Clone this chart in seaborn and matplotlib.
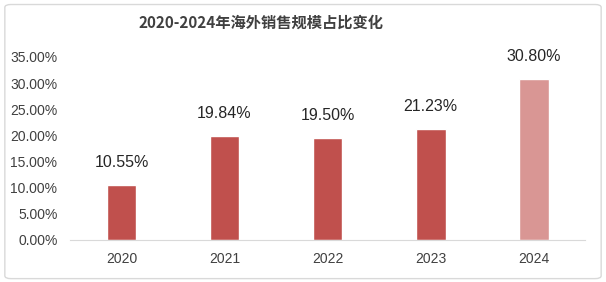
import matplotlib
matplotlib.use("Agg")
import matplotlib.pyplot as plt
from matplotlib.patches import FancyBboxPatch
import seaborn as sns
import pandas as pd

years = ["2020", "2021", "2022", "2023", "2024"]
shares = [10.55, 19.84, 19.50, 21.23, 30.80]
colors = ["#C0504D", "#C0504D", "#C0504D", "#C0504D", "#D99694"]
yticks = [0, 5, 10, 15, 20, 25, 30, 35]
title = "2020-2024年海外销售规模占比变化"

sns.set_style("white")
plt.rcParams['font.family'] = ['Noto Sans CJK SC', 'DejaVu Sans']

df = pd.DataFrame({"year": years, "share": shares})

fig = plt.figure(figsize=(6.06, 2.82), dpi=100)
ax = fig.add_axes([0.1155, 0.149, 0.85, 0.649])

sns.barplot(data=df, x="year", y="share", hue="year", palette=colors,
            legend=False, width=0.29, ax=ax, saturation=1)

ax.set_ylim(0, 35)
ax.set_yticks(yticks)
ax.set_yticklabels([f"{v:.2f}%" for v in yticks], family=['Liberation Sans'], fontsize=10, color="#404040")
ax.set_xticks(range(len(years)))
ax.set_xticklabels(years, family=['Liberation Sans'], fontsize=10, color="#404040")
ax.set_xlabel("")
ax.set_ylabel("")
for s in ["top", "right", "left"]:
    ax.spines[s].set_visible(False)
ax.spines["bottom"].set_color("#D9D9D9")
ax.tick_params(axis="x", length=0, pad=9)
ax.tick_params(axis="y", length=0, pad=9)

for i, v in enumerate(shares):
    ax.text(i, v + 2.9, f"{v:.2f}%", ha="center", va="bottom",
            family=['Liberation Sans'], fontsize=11.5, color="#262626")

fig.text(0.43, 0.92, title, ha="center", va="center", fontsize=11,
         fontweight="bold", color="#404040")

border = FancyBboxPatch((0.008, 0.012), 0.984, 0.972, boxstyle="round,pad=0,rounding_size=0.01",
                        transform=fig.transFigure, fill=False, edgecolor="#D9D9D9", linewidth=1)
fig.patches.append(border)

fig.savefig("out.png", dpi=100)
